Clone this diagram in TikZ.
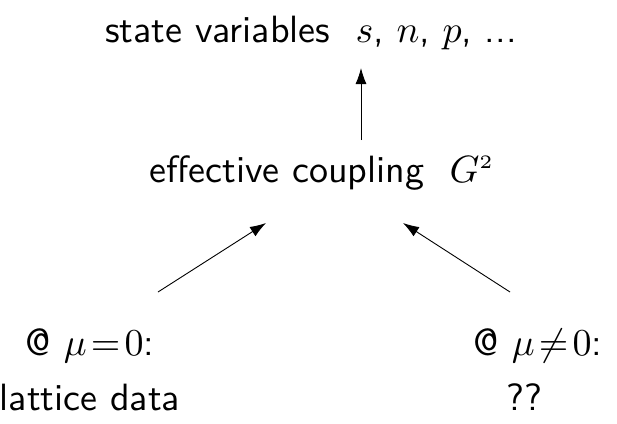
\documentclass[tikz,border=0pt]{standalone}
\usepackage{graphicx}
\usetikzlibrary{arrows.meta}
\newcommand{\bigtxt}[1]{\scalebox{3.8}{\sffamily #1}}
\begin{document}
\begin{tikzpicture}[x=1pt,y=-1pt,
  lbl/.style={inner sep=0pt, anchor=base},
  arr/.style={line width=0.9pt, -{Latex[length=16pt,width=11pt]}}]
\useasboundingbox (0,0) rectangle (617,423);
\node[lbl] (top) at (311,42) {\bigtxt{state variables~~$s$, $n$, $p$, ...}};
\node[lbl] (mid) at (322,182) {\bigtxt{effective coupling~~$G^{\scriptscriptstyle 2}$}};
\node[lbl] (left) at (90,355) {\bigtxt{@ $\mu\!=\!0$:}};
\node[lbl] (leftb) at (90,410) {\bigtxt{lattice data}};
\node[lbl] (right) at (538,355) {\bigtxt{@ $\mu\!\neq\!0$:}};
\node[lbl] (rightb) at (524,410) {\bigtxt{??}};
\coordinate (a1s) at (361,140); \coordinate (a1e) at (361,68);
\coordinate (a2s) at (158,292); \coordinate (a2e) at (266,223);
\coordinate (a3s) at (510,292); \coordinate (a3e) at (403,223);
\draw[arr] (a1s) -- (a1e);
\draw[arr] (a2s) -- (a2e);
\draw[arr] (a3s) -- (a3e);
\end{tikzpicture}
\end{document}
